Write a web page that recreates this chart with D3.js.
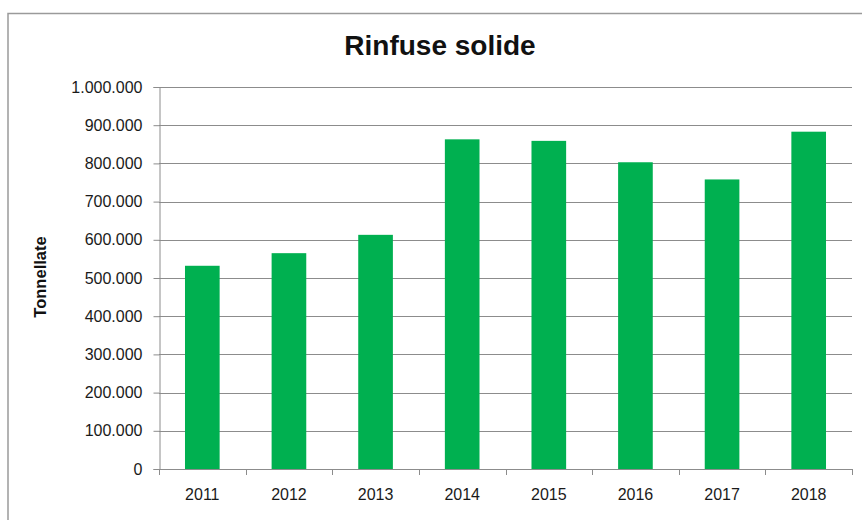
<!DOCTYPE html>
<html>
<head>
<meta charset="utf-8">
<script src="https://cdn.jsdelivr.net/npm/d3@7"></script>
<style>
  html, body { margin: 0; padding: 0; background: #fff; }
  svg { display: block; font-family: "Liberation Sans", Arial, sans-serif; }
</style>
</head>
<body>
<svg id="chart" width="862" height="520"></svg>
<script>
const categories = ["2011", "2012", "2013", "2014", "2015", "2016", "2017", "2018"];
const values = [532000, 565000, 613000, 863000, 859000, 803000, 758000, 883000];
const yTicks = [0, 100000, 200000, 300000, 400000, 500000, 600000, 700000, 800000, 900000, 1000000];
const title = "Rinfuse solide";
const yTitle = "Tonnellate";

const svg = d3.select("#chart");
const W = 862, H = 520;
const m = { left: 159, right: 852, top: 87, bottom: 469 };

const locale = d3.formatLocale({ decimal: ",", thousands: ".", grouping: [3], currency: ["€", ""] });
const fmt = locale.format(",d");

// outer chart border
svg.append("rect")
  .attr("x", 8).attr("y", 13.5)
  .attr("width", 880).attr("height", 540)
  .attr("fill", "none").attr("stroke", "#9a9a9a").attr("stroke-width", 1.5);

const x = d3.scaleBand().domain(categories).range([m.left, m.right]).paddingInner(0.6).paddingOuter(0.3);
const xb = d3.scaleBand().domain(categories).range([m.left, m.right]).padding(0);
const y = d3.scaleLinear().domain([0, 1000000]).range([m.bottom, m.top]);

// gridlines
svg.append("g").selectAll("line").data(yTicks.filter(d => d > 0)).join("line")
  .attr("x1", m.left).attr("x2", m.right)
  .attr("y1", d => Math.round(y(d)) + 0.5).attr("y2", d => Math.round(y(d)) + 0.5)
  .attr("stroke", "#8c8c8c").attr("stroke-width", 1);

// bars
svg.append("g").selectAll("rect").data(values).join("rect")
  .attr("x", (d, i) => x(categories[i]))
  .attr("width", x.bandwidth())
  .attr("y", d => y(d))
  .attr("height", d => y(0) - y(d))
  .attr("fill", "#00b050");

// y axis
const yAxis = svg.append("g").attr("transform", `translate(${m.left + 0.5},0)`)
  .call(d3.axisLeft(y).tickValues(yTicks).tickFormat(fmt).tickSize(6).tickPadding(11));
yAxis.select(".domain").attr("stroke", "#8c8c8c");
yAxis.selectAll(".tick line").attr("stroke", "#8c8c8c");
yAxis.selectAll(".tick text").attr("fill", "#1a1a1a").style("font-size", "16px")
  .style("font-family", "'Liberation Sans', Arial, sans-serif");

// x axis
const xAxis = svg.append("g").attr("transform", `translate(0,${Math.round(y(0)) + 0.5})`)
  .call(d3.axisBottom(x).tickSize(0).tickPadding(19));
xAxis.select(".domain").attr("stroke", "#8c8c8c").attr("d", `M${m.left},0H${m.right}`);
xAxis.selectAll(".tick text").attr("fill", "#1a1a1a").style("font-size", "16px")
  .style("font-family", "'Liberation Sans', Arial, sans-serif");
// category boundary ticks
const bounds = categories.map(c => xb(c)).concat([m.right]);
svg.append("g").selectAll("line").data(bounds).join("line")
  .attr("x1", d => Math.round(d) + 0.5).attr("x2", d => Math.round(d) + 0.5)
  .attr("y1", Math.round(y(0))).attr("y2", Math.round(y(0)) + 6)
  .attr("stroke", "#8c8c8c");

// title
svg.append("text").attr("x", 440).attr("y", 55).attr("text-anchor", "middle")
  .style("font-size", "28px").style("font-weight", "bold").attr("fill", "#111")
  .text(title);

// y axis title
svg.append("text").attr("transform", "translate(46,277) rotate(-90)")
  .attr("text-anchor", "middle")
  .style("font-size", "16.5px").style("font-weight", "bold").attr("fill", "#111")
  .text(yTitle);
</script>
</body>
</html>
